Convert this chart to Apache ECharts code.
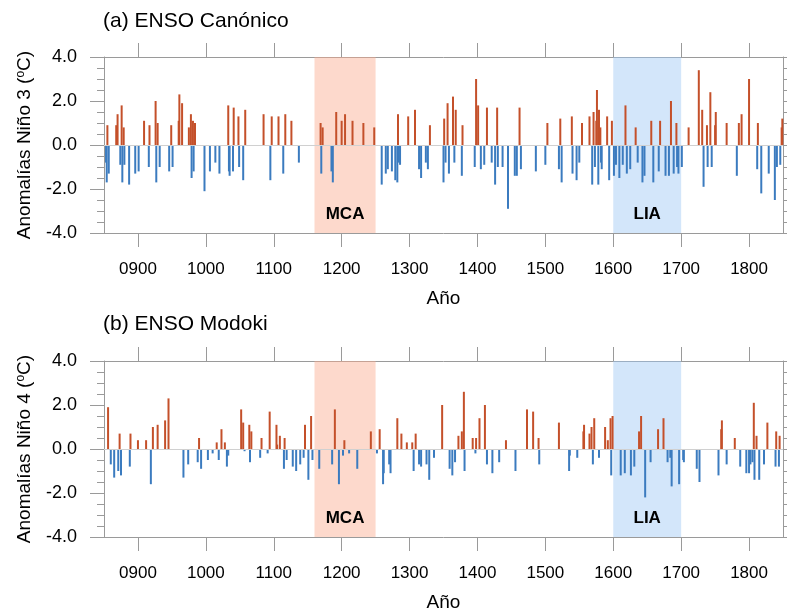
<!DOCTYPE html>
<html>
<head>
<meta charset="utf-8">
<script src="https://cdn.jsdelivr.net/npm/echarts@6/dist/echarts.min.js"></script>
<style>
  html, body { margin: 0; padding: 0; background: #fff; }
  #chart { width: 787px; height: 613px; }
</style>
</head>
<body>
<div id="chart"></div>
<script>
// Reconstructed ENSO anomaly events (year, anomaly in °C)
const yearsA = [853,854,855,857,868,870,874,876,877,879,880,887,896,901,909,916,917,926,927,929,932,946,949,951,960,961,965,975,978,979,981,982,984,998,1006,1014,1020,1033,1034,1035,1040,1041,1048,1049,1055,1058,1085,1095,1097,1107,1114,1117,1126,1137,1169,1170,1172,1185,1187,1192,1200,1205,1216,1232,1248,1259,1265,1268,1274,1279,1282,1283,1284,1286,1298,1308,1314,1317,1324,1327,1330,1350,1351,1353,1356,1358,1364,1366,1368,1377,1378,1396,1398,1401,1405,1410,1414,1421,1426,1429,1430,1437,1445,1455,1458,1462,1464,1486,1500,1503,1520,1522,1524,1539,1540,1546,1550,1554,1565,1569,1571,1573,1575,1576,1578,1579,1581,1582,1583,1591,1594,1598,1601,1604,1609,1614,1618,1620,1625,1633,1636,1643,1646,1656,1659,1667,1669,1677,1682,1685,1689,1693,1694,1696,1701,1711,1726,1731,1733,1738,1739,1743,1745,1750,1751,1767,1782,1785,1789,1800,1812,1813,1818,1829,1838,1841,1846,1848,1849];
const valuesA = [-0.8,-1.7,0.9,-1.3,0.9,1.4,-0.9,1.8,-1.7,0.8,-0.9,-1.8,-1.3,-1.2,1.1,-1.0,0.9,2.0,-1.7,1.0,-1.0,-1.2,0.9,-1.0,1.1,2.3,1.9,0.8,1.4,-1.5,1.1,-1.2,1.0,-2.1,-1.2,-0.8,-1.3,1.8,-1.2,-1.4,-1.2,1.7,1.3,-1.0,-1.6,1.6,1.4,-1.6,1.3,1.3,-1.3,1.4,1.1,-0.8,1.0,-1.3,0.8,-1.2,-1.7,1.5,1.1,1.4,1.1,1.0,0.8,-1.8,-1.3,-1.1,-1.2,-1.6,-1.7,1.4,-0.8,-0.9,1.3,1.6,-1.1,-1.5,-0.8,-1.1,0.9,-1.7,1.2,-0.8,1.9,-1.3,2.2,-0.8,1.6,-1.4,0.9,-1.0,3.0,1.8,-1.1,-0.9,1.7,-0.8,-1.8,1.7,-1.0,-1.0,-2.9,-1.4,-1.4,1.7,-1.1,-1.2,-0.9,1.0,-1.1,1.2,-1.7,1.3,-1.3,-1.6,-0.8,1.0,1.3,-1.8,1.5,-1.0,1.1,2.5,-1.8,1.6,0.8,-0.8,-1.1,1.3,-1.6,1.1,-1.4,-0.9,-1.5,-0.9,1.8,-1.3,-1.1,0.8,-0.8,-1.7,-1.4,1.1,-1.7,-1.2,1.1,-1.4,-1.4,2.0,-1.3,1.0,-1.0,-1.3,-1.0,0.8,3.4,1.6,-1.9,0.9,-1.0,2.4,-1.0,0.9,1.5,1.0,-1.4,1.0,1.4,3.0,-1.1,1.0,-2.2,-1.3,-2.5,-1.0,-0.9,0.8,1.2];

const yearsB = [856,860,865,871,873,875,888,889,900,912,919,922,929,940,945,967,974,988,990,993,1003,1010,1016,1019,1023,1028,1031,1033,1052,1055,1057,1064,1065,1067,1080,1082,1091,1094,1104,1105,1109,1115,1116,1119,1128,1133,1139,1144,1146,1151,1155,1157,1167,1186,1190,1196,1202,1204,1211,1223,1243,1252,1256,1261,1262,1270,1272,1282,1288,1296,1304,1306,1309,1314,1317,1325,1329,1336,1348,1359,1363,1367,1372,1377,1380,1381,1393,1397,1398,1403,1411,1414,1422,1432,1442,1456,1473,1482,1490,1491,1520,1535,1536,1547,1556,1557,1565,1568,1570,1572,1579,1588,1592,1596,1597,1599,1611,1617,1626,1631,1638,1641,1647,1655,1666,1674,1680,1684,1686,1697,1703,1704,1723,1727,1755,1759,1760,1767,1779,1787,1796,1800,1802,1805,1807,1808,1811,1815,1822,1827,1839,1840,1844,1845];
const valuesB = [1.9,-0.7,-1.3,-1.0,0.7,-1.2,-0.8,0.7,0.4,0.4,-1.6,1.0,1.1,1.3,2.3,-1.3,-0.7,-0.6,0.5,-0.9,-0.5,-0.2,0.3,-0.5,0.9,0.3,-0.8,-0.3,1.8,1.2,-0.1,1.1,-0.6,0.8,-0.4,0.5,-0.2,1.7,1.1,0.2,0.6,-0.9,0.5,-0.5,-0.8,-1.0,-0.7,-0.4,1.1,-1.4,1.5,-0.5,-0.9,-0.7,1.8,-1.6,-0.3,0.4,-0.2,-0.9,0.8,-0.2,0.9,-1.6,-1.1,-0.7,-1.1,1.4,0.7,0.3,0.3,-1.0,0.7,-0.7,-0.8,-0.7,-1.4,-0.4,2.0,-0.9,-1.2,-0.6,0.6,0.8,2.6,-1.0,0.5,-0.2,0.5,1.4,2.0,-0.7,-1.1,-0.6,0.4,-1.0,1.8,1.7,0.5,-0.7,1.2,-1.0,-0.3,-0.4,0.8,1.1,0.7,1.0,-0.7,1.4,-0.4,1.0,0.4,1.4,-1.2,1.5,-1.2,-1.1,-1.2,-0.8,0.8,1.5,-2.2,-0.6,0.9,1.4,-0.6,-0.4,-1.7,-1.6,-0.5,-0.6,-0.9,-1.5,-1.2,0.9,1.3,-0.7,0.5,-0.8,-1.1,-1.1,-0.7,-0.6,2.1,-1.4,0.6,-1.4,-0.7,1.2,-0.8,0.8,-0.8,0.6];

// Climate periods shaded on both panels
const periods = [
  { name: 'MCA', from: 1160, to: 1250, color: 'rgba(251,171,142,0.45)' },
  { name: 'LIA', from: 1600, to: 1700, color: 'rgba(157,199,244,0.45)' }
];
const yearTicks = [900, 1000, 1100, 1200, 1300, 1400, 1500, 1600, 1700, 1800];
const panelTitles = ['(a) ENSO Canónico', '(b) ENSO Modoki'];
const yNames = ['Anomalías Niño 3 ({s|o}C)', 'Anomalías Niño 4 ({s|o}C)'];

const FONT = 'Liberation Sans';
const AXIS_GREY = '#9a9a9a';
const POS_COLOR = '#c4502a';
const NEG_COLOR = '#3b7bbf';

const grids = [
  { left: 104, top: 57, width: 679, height: 176 },
  { left: 104, top: 361, width: 679, height: 176 }
];

function pairs(xs, ys) { return xs.map((x, i) => [x, ys[i]]); }

const xAxes = [], yAxes = [], series = [];
[0, 1].forEach(g => {
  const tickStyle = { show: true, inside: false, length: 14, customValues: yearTicks, lineStyle: { color: AXIS_GREY } };
  const frameLine = { show: true, onZero: false, lineStyle: { color: AXIS_GREY } };
  xAxes.push({
    type: 'value', gridIndex: g, position: 'bottom', min: 850, max: 1850,
    axisLine: frameLine,
    axisTick: tickStyle,
    axisLabel: {
      customValues: yearTicks, margin: 28, fontSize: 17, color: '#000', fontFamily: FONT,
      formatter: v => String(v).padStart(4, '0')
    },
    splitLine: { show: false },
    name: 'Año', nameLocation: 'middle', nameGap: 56,
    nameTextStyle: { fontSize: 19, color: '#000', fontFamily: FONT }
  });
  xAxes.push({
    type: 'value', gridIndex: g, position: 'top', min: 850, max: 1850,
    axisLine: frameLine,
    axisTick: tickStyle,
    axisLabel: { show: false },
    splitLine: { show: false }
  });
  const yCommon = {
    type: 'value', gridIndex: g, min: -4, max: 4, interval: 2,
    axisLine: frameLine,
    axisTick: { show: true, inside: false, length: 14, lineStyle: { color: AXIS_GREY } },
    minorTick: { show: true, splitNumber: 4, length: 7, lineStyle: { color: AXIS_GREY } },
    splitLine: { show: false }
  };
  yAxes.push(Object.assign({}, yCommon, {
    position: 'left',
    axisLabel: { margin: 27, fontSize: 18, color: '#000', fontFamily: FONT, formatter: v => v.toFixed(1) },
    name: yNames[g], nameLocation: 'middle', nameGap: 70,
    nameTextStyle: {
      fontSize: 19, color: '#000', fontFamily: FONT,
      rich: { s: { fontSize: 12, verticalAlign: 'top', fontFamily: FONT, color: '#000' } }
    }
  }));
  yAxes.push(Object.assign({}, yCommon, { position: 'right', axisLabel: { show: false } }));

  const xi = g * 2, yi = g * 2;
  series.push({
    type: 'bar', xAxisIndex: xi, yAxisIndex: yi, z: 2,
    barWidth: 2, silent: true, animation: false,
    data: g === 0 ? pairs(yearsA, valuesA) : pairs(yearsB, valuesB),
    itemStyle: { color: p => (p.value[1] >= 0 ? POS_COLOR : NEG_COLOR) }
  });
  // shaded periods drawn over the bars
  series.push({
    type: 'line', xAxisIndex: xi, yAxisIndex: yi, z: 4, data: [], silent: true, animation: false,
    markArea: {
      silent: true,
      data: periods.map(p => [
        { xAxis: p.from, itemStyle: { color: p.color },
          label: { show: true, formatter: p.name, position: 'insideBottom', distance: 10,
                   fontSize: 17, fontWeight: 'bold', color: '#000', fontFamily: FONT } },
        { xAxis: p.to }
      ])
    }
  });
  // zero reference line
  series.push({
    type: 'line', xAxisIndex: xi, yAxisIndex: yi, z: 6, data: [], silent: true, animation: false,
    markLine: {
      silent: true, symbol: ['none', 'none'], label: { show: false },
      lineStyle: { color: '#d0d0d0', type: 'solid', width: 1 },
      data: [{ yAxis: 0 }]
    }
  });
});

const chart = echarts.init(document.getElementById('chart'), null, { renderer: 'canvas' });
chart.setOption({
  animation: false,
  backgroundColor: '#fff',
  title: [
    { text: panelTitles[0], left: 98, top: 6, textStyle: { fontSize: 21, fontWeight: 'normal', color: '#000', fontFamily: FONT } },
    { text: panelTitles[1], left: 98, top: 309, textStyle: { fontSize: 21, fontWeight: 'normal', color: '#000', fontFamily: FONT } }
  ],
  grid: grids,
  xAxis: xAxes,
  yAxis: yAxes,
  series: series
});
</script>
</body>
</html>
